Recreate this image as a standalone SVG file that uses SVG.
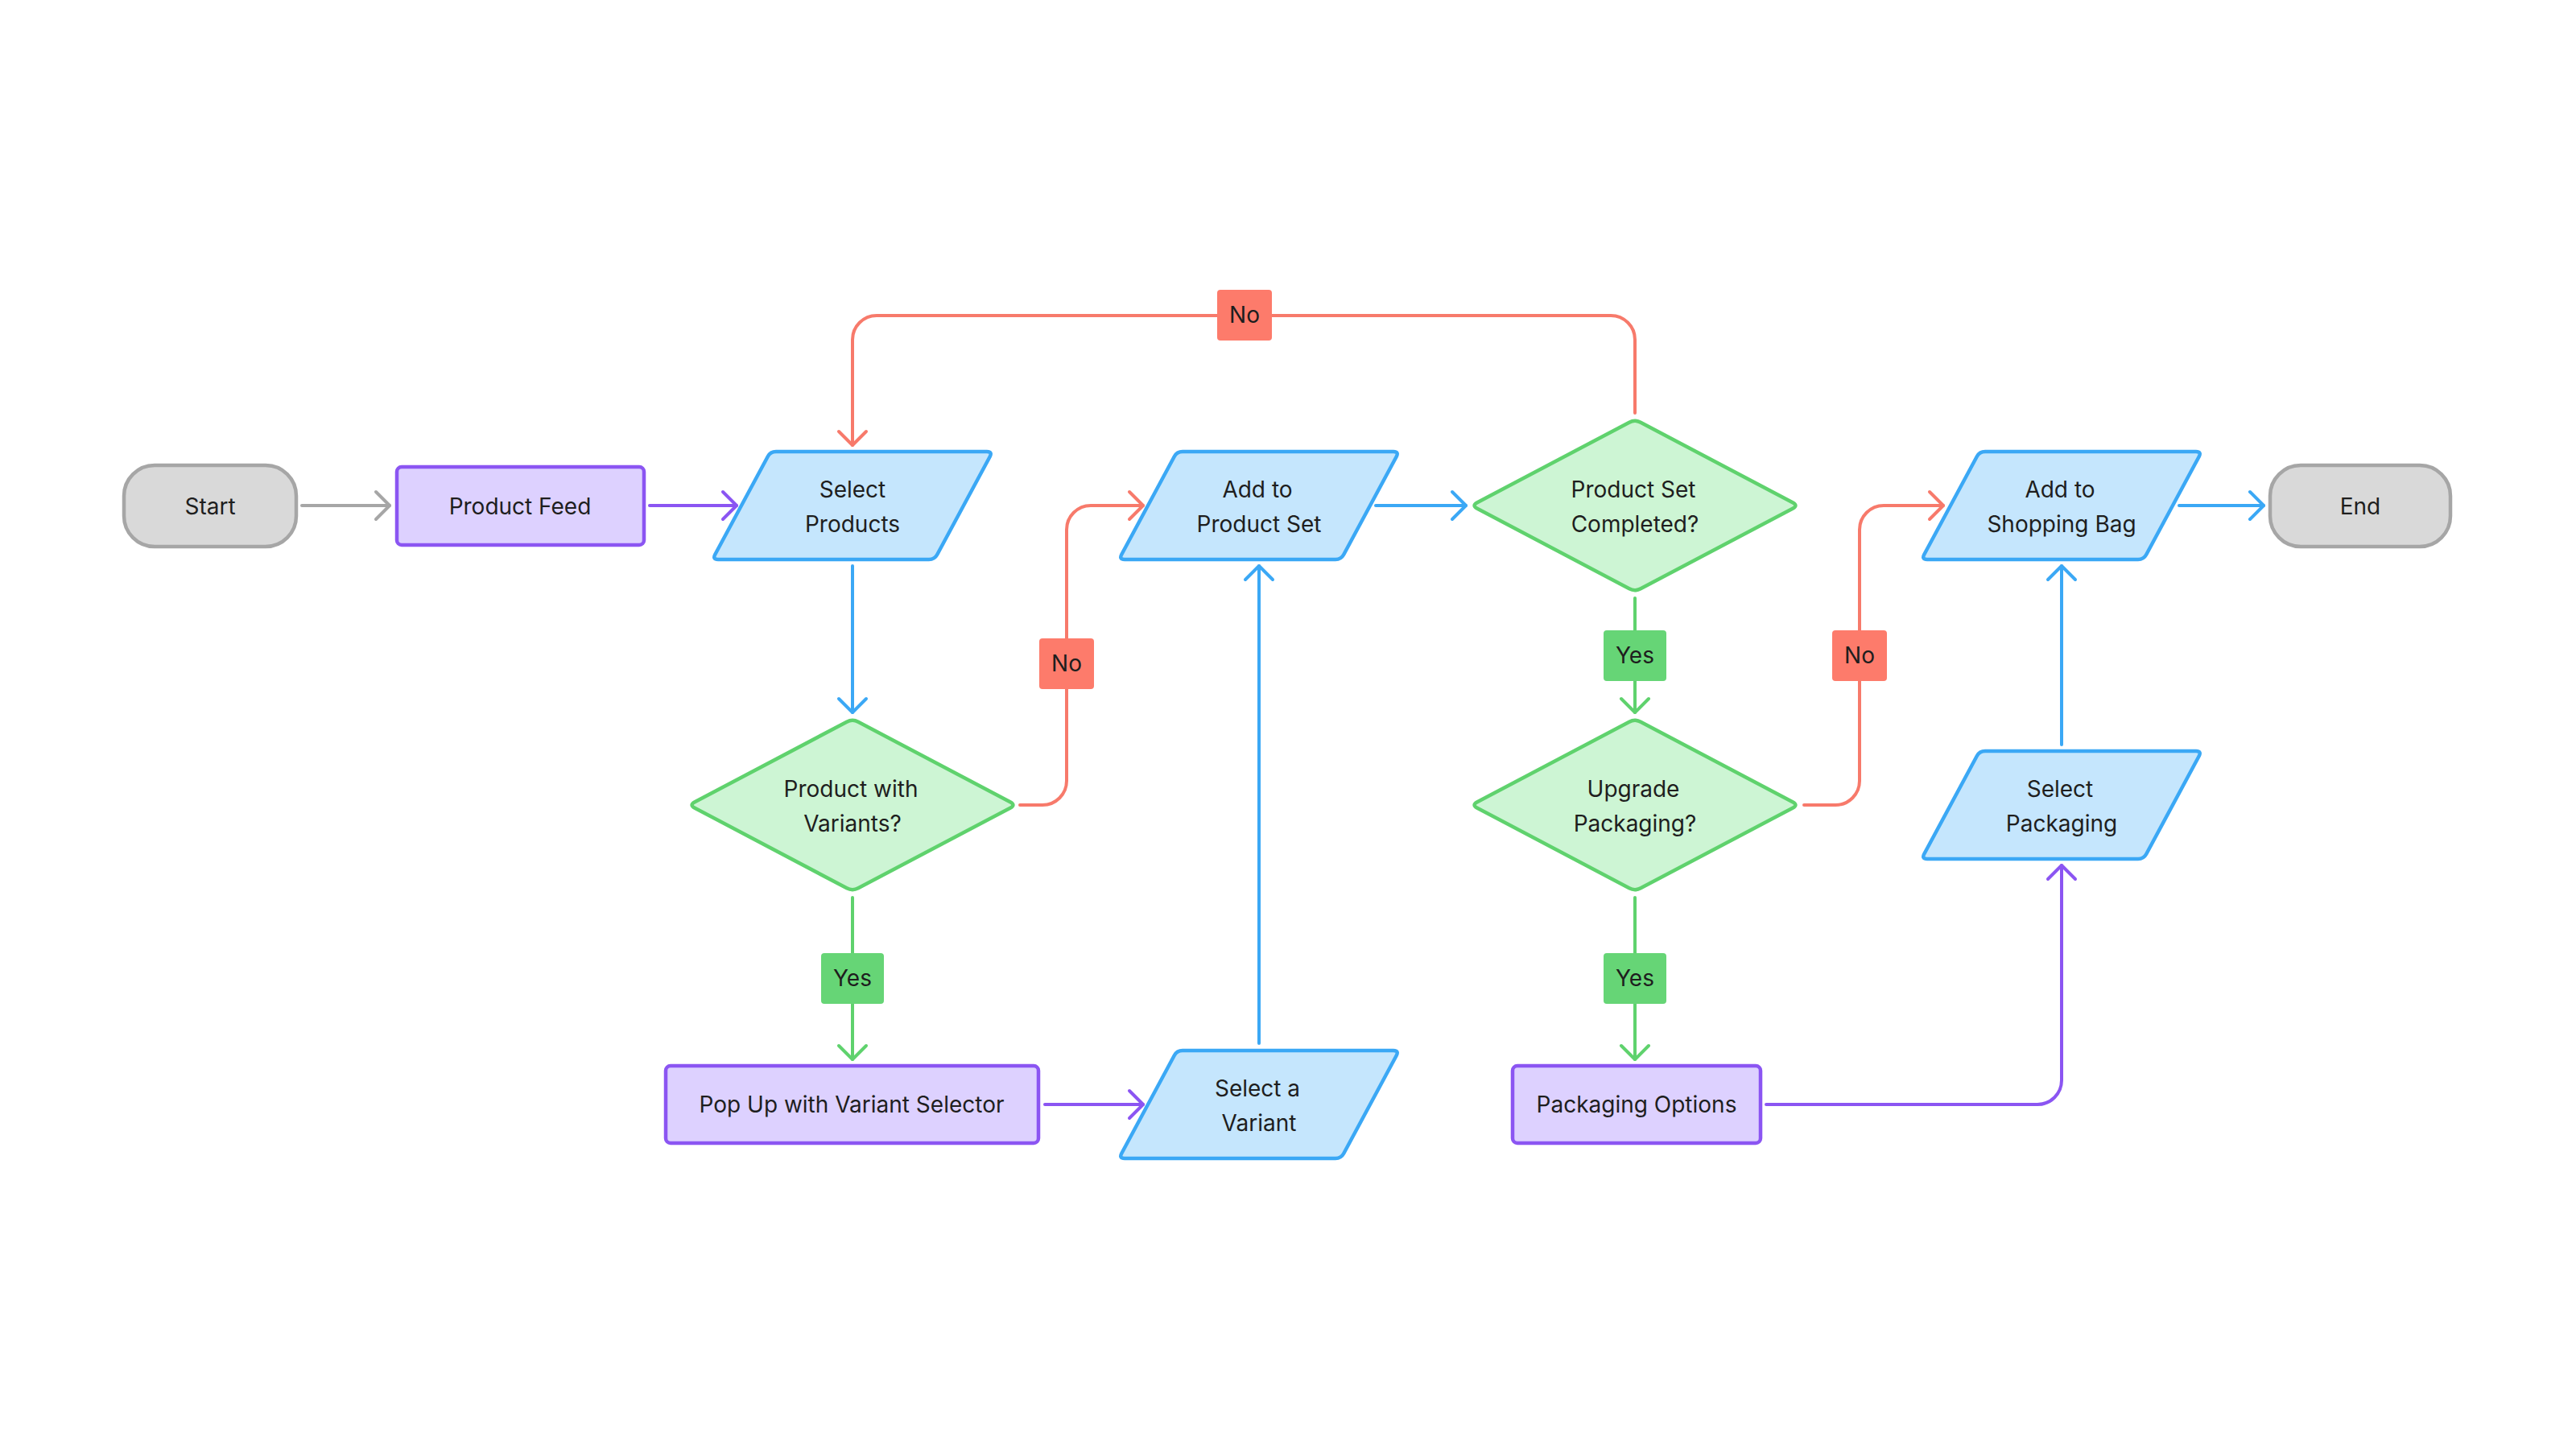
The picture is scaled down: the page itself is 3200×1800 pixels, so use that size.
<svg xmlns="http://www.w3.org/2000/svg" width="3200" height="1800" viewBox="0 0 3200 1800">
<defs>
<style>
text{font-family:Inter,"Noto Sans","Liberation Sans",sans-serif;font-size:28px;fill:#1e1e1e;text-anchor:middle}
.term{fill:#d9d9d9;stroke:#a6a6a6;stroke-width:4.5}
.proc{fill:#ddd1ff;stroke:#8b55f2;stroke-width:4.5}
.io{fill:#c5e6fd;stroke:#3ba8f5;stroke-width:4.5;stroke-linejoin:round}
.dec{fill:#cdf5d4;stroke:#5fd26d;stroke-width:4.5;stroke-linejoin:round}
.c{fill:none;stroke-width:4;stroke-linecap:round;stroke-linejoin:round}
.gray{stroke:#a6a6a6}.purple{stroke:#8b55f2}.blue{stroke:#3ba8f5}.green{stroke:#5fd26d}.red{stroke:#f77a6b}
.no{fill:#fd7b6b}.yes{fill:#66d576}
</style>
<path id="para" d="M-95,-67 H167 Q174,-67 170.7,-60.8 L105.3,60.8 Q102,67 95,67 H-167 Q-174,67 -170.7,60.8 L-105.3,-60.8 Q-102,-67 -95,-67 Z"/>
<path id="diamond" d="M-7.1,-103.3 Q0,-107 7.1,-103.3 L195.9,-3.7 Q203,0 195.9,3.7 L7.1,103.3 Q0,107 -7.1,103.3 L-195.9,3.7 Q-203,0 -195.9,-3.7 Z"/>
<marker id="ag" viewBox="-22 -22 26 44" refX="0" refY="0" markerWidth="26" markerHeight="44" markerUnits="userSpaceOnUse" orient="auto"><path d="M-17,-17 L0,0 L-17,17" fill="none" stroke="#a6a6a6" stroke-width="4" stroke-linecap="round" stroke-linejoin="round"/></marker>
<marker id="ap" viewBox="-22 -22 26 44" refX="0" refY="0" markerWidth="26" markerHeight="44" markerUnits="userSpaceOnUse" orient="auto"><path d="M-17,-17 L0,0 L-17,17" fill="none" stroke="#8b55f2" stroke-width="4" stroke-linecap="round" stroke-linejoin="round"/></marker>
<marker id="ab" viewBox="-22 -22 26 44" refX="0" refY="0" markerWidth="26" markerHeight="44" markerUnits="userSpaceOnUse" orient="auto"><path d="M-17,-17 L0,0 L-17,17" fill="none" stroke="#3ba8f5" stroke-width="4" stroke-linecap="round" stroke-linejoin="round"/></marker>
<marker id="agr" viewBox="-22 -22 26 44" refX="0" refY="0" markerWidth="26" markerHeight="44" markerUnits="userSpaceOnUse" orient="auto"><path d="M-17,-17 L0,0 L-17,17" fill="none" stroke="#5fd26d" stroke-width="4" stroke-linecap="round" stroke-linejoin="round"/></marker>
<marker id="ar" viewBox="-22 -22 26 44" refX="0" refY="0" markerWidth="26" markerHeight="44" markerUnits="userSpaceOnUse" orient="auto"><path d="M-17,-17 L0,0 L-17,17" fill="none" stroke="#f77a6b" stroke-width="4" stroke-linecap="round" stroke-linejoin="round"/></marker>
</defs>
<rect width="3200" height="1800" fill="#ffffff"/>

<g id="connectors">
<path class="c gray" d="M375 628 H484" marker-end="url(#ag)"/>
<path class="c purple" d="M807 628 H915" marker-end="url(#ap)"/>
<path class="c blue" d="M1059 703 V885" marker-end="url(#ab)"/>
<path class="c red" d="M1267 1000 H1295 A30 30 0 0 0 1325 970 V658 A30 30 0 0 1 1355 628 H1420" marker-end="url(#ar)"/>
<path class="c green" d="M1059 1115 V1316" marker-end="url(#agr)"/>
<path class="c purple" d="M1298 1372 H1420" marker-end="url(#ap)"/>
<path class="c blue" d="M1564 1296 V703" marker-end="url(#ab)"/>
<path class="c blue" d="M1709 628 H1821" marker-end="url(#ab)"/>
<path class="c red" d="M2031 513 V422 A30 30 0 0 0 2001 392 H1089 A30 30 0 0 0 1059 422 V553" marker-end="url(#ar)"/>
<path class="c green" d="M2031 743 V885" marker-end="url(#agr)"/>
<path class="c red" d="M2241 1000 H2280 A30 30 0 0 0 2310 970 V658 A30 30 0 0 1 2340 628 H2414" marker-end="url(#ar)"/>
<path class="c green" d="M2031 1115 V1316" marker-end="url(#agr)"/>
<path class="c purple" d="M2194 1372 H2531 A30 30 0 0 0 2561 1342 V1075" marker-end="url(#ap)"/>
<path class="c blue" d="M2561 925 V703" marker-end="url(#ab)"/>
<path class="c blue" d="M2707 628 H2812" marker-end="url(#ab)"/>
<g id="label-no-top"><rect class="no" x="1512" y="360" width="68" height="63" rx="4"/><text x="1546" y="401">No</text></g>
<g id="label-no-left"><rect class="no" x="1291" y="793" width="68" height="63" rx="4"/><text x="1325" y="834">No</text></g>
<g id="label-no-right"><rect class="no" x="2276" y="783" width="68" height="63" rx="4"/><text x="2310" y="824">No</text></g>
<g id="label-yes-top"><rect class="yes" x="1992" y="783" width="78" height="63" rx="4"/><text x="2031" y="824">Yes</text></g>
<g id="label-yes-left"><rect class="yes" x="1020" y="1184" width="78" height="63" rx="4"/><text x="1059" y="1225">Yes</text></g>
<g id="label-yes-right"><rect class="yes" x="1992" y="1184" width="78" height="63" rx="4"/><text x="2031" y="1225">Yes</text></g>
</g>

<g id="start"><rect class="term" x="154" y="578" width="214" height="101" rx="38"/><text x="261" y="639">Start</text></g>
<g id="product-feed"><rect class="proc" x="493" y="580" width="307" height="97" rx="6"/><text x="646" y="639">Product Feed</text></g>
<g id="select-products"><use href="#para" class="io" x="1059" y="628"/><text x="1059" y="618">Select</text><text x="1059" y="661">Products</text></g>
<g id="product-with-variants"><use href="#diamond" class="dec" x="1059" y="1000"/><text x="1057" y="990">Product with</text><text x="1059" y="1033">Variants?</text></g>
<g id="pop-up"><rect class="proc" x="827" y="1324" width="463" height="96" rx="6"/><text x="1058" y="1382">Pop Up with Variant Selector</text></g>
<g id="add-to-product-set"><use href="#para" class="io" x="1564" y="628"/><text x="1562" y="618">Add to</text><text x="1564" y="661">Product Set</text></g>
<g id="select-a-variant"><use href="#para" class="io" x="1564" y="1372"/><text x="1562" y="1362">Select a</text><text x="1564" y="1405">Variant</text></g>
<g id="product-set-completed"><use href="#diamond" class="dec" x="2031" y="628"/><text x="2029" y="618">Product Set</text><text x="2031" y="661">Completed?</text></g>
<g id="upgrade-packaging"><use href="#diamond" class="dec" x="2031" y="1000"/><text x="2029" y="990">Upgrade</text><text x="2031" y="1033">Packaging?</text></g>
<g id="packaging-options"><rect class="proc" x="1879" y="1324" width="308" height="96" rx="6"/><text x="2033" y="1382">Packaging Options</text></g>
<g id="add-to-shopping-bag"><use href="#para" class="io" x="2561" y="628"/><text x="2559" y="618">Add to</text><text x="2561" y="661">Shopping Bag</text></g>
<g id="select-packaging"><use href="#para" class="io" x="2561" y="1000"/><text x="2559" y="990">Select</text><text x="2561" y="1033">Packaging</text></g>
<g id="end"><rect class="term" x="2820" y="578" width="224" height="101" rx="38"/><text x="2932" y="639">End</text></g>
</svg>
